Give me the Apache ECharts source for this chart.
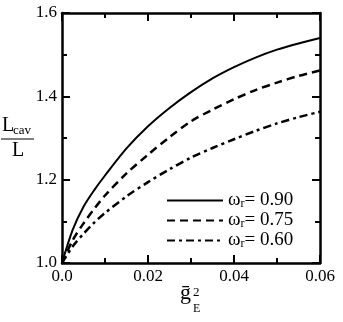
<!DOCTYPE html>
<html>
<head>
<meta charset="utf-8">
<script src="https://cdn.jsdelivr.net/npm/echarts@6/dist/echarts.min.js"></script>
<style>
  html, body { margin: 0; padding: 0; background: #fff; }
  #chart { width: 343px; height: 322px; }
</style>
</head>
<body>
<div id="chart"></div>
<script>
// values
const gE2 = [0, 0.0025, 0.005, 0.0075, 0.01, 0.015, 0.02, 0.025, 0.03, 0.035, 0.04, 0.045, 0.05, 0.055, 0.06]
const omegas = ['0.90', '0.75', '0.60']
const lcav090 = [1.0, 1.08, 1.135, 1.175, 1.21, 1.275, 1.328, 1.372, 1.41, 1.443, 1.47, 1.493, 1.512, 1.527, 1.54]
const lcav075 = [1.0, 1.055, 1.095, 1.13, 1.162, 1.215, 1.26, 1.302, 1.34, 1.368, 1.393, 1.415, 1.433, 1.449, 1.462]
const lcav060 = [1.0, 1.04, 1.07, 1.097, 1.12, 1.16, 1.194, 1.225, 1.253, 1.276, 1.297, 1.317, 1.335, 1.35, 1.363]
const xTicks = ['0.0', '0.02', '0.04', '0.06']
const yTicks = ['1.0', '1.2', '1.4', '1.6']

const FONT = '"Liberation Serif", "DejaVu Serif", serif'
const ink = '#000'

const pairs = ys => gE2.map((x, i) => [x, ys[i]])

const lineTypes = ['solid', [8, 5], [8, 4, 3, 4]]
const curves = [lcav090, lcav075, lcav060]

// negative tick length = ticks pointing into the plot
function axisParts() {
  return {
    axisLine: { show: true, onZero: false, lineStyle: { color: ink, width: 2.5 } },
    axisTick: { show: true, length: -8, lineStyle: { color: ink, width: 2 } },
    minorTick: { show: true, splitNumber: 2, length: -5, lineStyle: { color: ink, width: 2 } },
    splitLine: { show: false },
    minorSplitLine: { show: false }
  }
}

const chart = echarts.init(document.getElementById('chart'), null, { renderer: 'canvas' })

const option = {
  animation: false,
  backgroundColor: '#fff',
  grid: { left: 62, right: 23, top: 13, bottom: 59 },
  xAxis: [
    {
      type: 'value', min: 0, max: 0.06, interval: 0.02, position: 'bottom',
      ...axisParts(),
      axisLabel: {
        color: ink, fontFamily: FONT, fontSize: 17, margin: 5,
        formatter: v => xTicks[Math.round(v / 0.02)]
      }
    },
    {
      type: 'value', min: 0, max: 0.06, interval: 0.02, position: 'top',
      ...axisParts(),
      axisLabel: { show: false }
    }
  ],
  yAxis: [
    {
      type: 'value', min: 1.0, max: 1.6, interval: 0.2, position: 'left',
      ...axisParts(),
      axisLabel: {
        color: ink, fontFamily: FONT, fontSize: 17, margin: 5,
        formatter: v => yTicks[Math.round((v - 1) / 0.2)]
      }
    },
    {
      type: 'value', min: 1.0, max: 1.6, interval: 0.2, position: 'right',
      ...axisParts(),
      axisLabel: { show: false }
    }
  ],
  legend: {
    orient: 'vertical',
    left: 166, top: 191,
    padding: 0,
    itemWidth: 56, itemHeight: 14, itemGap: 1,
    itemStyle: { opacity: 0 },
    data: omegas,
    formatter: name => '{a|ω}{b|r}{a|= ' + name + '}',
    textStyle: {
      color: ink,
      rich: {
        a: { fontFamily: FONT, fontSize: 19, lineHeight: 19, color: ink },
        b: { fontFamily: FONT, fontSize: 12, lineHeight: 19, color: ink, verticalAlign: 'bottom', padding: [7, 0, 0, 0] }
      }
    }
  },
  series: curves.map((ys, i) => ({
    name: omegas[i],
    type: 'line',
    smooth: 0.3,
    symbol: 'none',
    data: pairs(ys),
    lineStyle: { color: ink, width: i === 0 ? 2 : 2.5, type: lineTypes[i] },
    itemStyle: { color: ink }
  })),
  graphic: [
    // y axis name: L_cav / L
    { type: 'text', left: 2, top: 116, style: { text: 'L', font: '20px ' + FONT, fill: ink } },
    { type: 'text', left: 13, top: 124, style: { text: 'cav', font: '13px ' + FONT, fill: ink } },
    { type: 'line', shape: { x1: 1, y1: 139, x2: 34, y2: 139 }, style: { stroke: ink, lineWidth: 1.2 } },
    { type: 'text', left: 12, top: 141, style: { text: 'L', font: '20px ' + FONT, fill: ink } },
    // x axis name: g-bar_E^2
    { type: 'text', left: 180, top: 282, style: { text: 'ḡ', font: '22px ' + FONT, fill: ink } },
    { type: 'text', left: 193, top: 286, style: { text: '2', font: '13px ' + FONT, fill: ink } },
    { type: 'text', left: 193, top: 303, style: { text: 'E', font: '12px ' + FONT, fill: ink } }
  ]
}

chart.setOption(option)
</script>
</body>
</html>
